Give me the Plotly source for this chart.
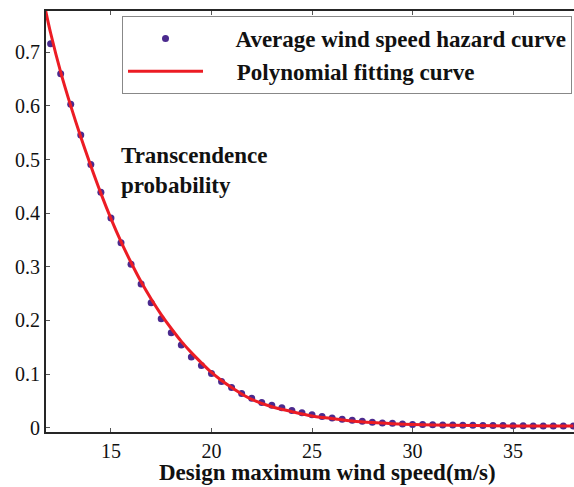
import plotly.graph_objects as go

# Average wind speed hazard curve (data points)
wind_speed = [12, 12.5, 13, 13.5, 14, 14.5, 15, 15.5, 16, 16.5, 17, 17.5, 18, 18.5,
              19, 19.5, 20, 20.5, 21, 21.5, 22, 22.5, 23, 23.5, 24, 24.5, 25, 25.5,
              26, 26.5, 27, 27.5, 28, 28.5, 29, 29.5, 30, 30.5, 31, 31.5, 32, 32.5,
              33, 33.5, 34, 34.5, 35, 35.5, 36, 36.5, 37, 37.5, 38]
hazard_prob = [0.716, 0.660, 0.603, 0.546, 0.491, 0.439, 0.391, 0.345, 0.305, 0.268,
               0.233, 0.203, 0.177, 0.154, 0.132, 0.116, 0.101, 0.086, 0.075, 0.064,
               0.055, 0.047, 0.042, 0.037, 0.032, 0.028, 0.024, 0.021, 0.018, 0.016,
               0.014, 0.012, 0.010, 0.009, 0.0085, 0.007, 0.006, 0.006, 0.0055, 0.005,
               0.005, 0.0045, 0.0045, 0.004, 0.004, 0.004, 0.0035, 0.0035, 0.003, 0.003,
               0.003, 0.003, 0.003]

# Polynomial fitting curve
fit_speed = [11.75, 12, 12.5, 13, 13.5, 14, 14.5, 15, 15.5, 16, 16.5, 17, 17.5, 18,
             18.5, 19, 19.5, 20, 20.5, 21, 21.5, 22, 23, 24, 25, 26, 27, 28, 29, 30,
             32, 34, 36, 38]
fit_prob = [0.778, 0.736, 0.663, 0.600, 0.542, 0.488, 0.437, 0.390, 0.347, 0.308,
            0.272, 0.240, 0.211, 0.185, 0.161, 0.140, 0.121, 0.103, 0.088, 0.075,
            0.063, 0.053, 0.039, 0.030, 0.022, 0.017, 0.0125, 0.0095, 0.0075, 0.006,
            0.0045, 0.0035, 0.003, 0.003]

x_ticks = [15, 20, 25, 30, 35]
y_ticks = [0, 0.1, 0.2, 0.3, 0.4, 0.5, 0.6, 0.7]

SERIF = "Liberation Serif"

fig = go.Figure()
fig.add_trace(go.Scatter(
    x=wind_speed, y=hazard_prob, mode="markers",
    name="<b>     Average wind speed hazard curve</b>",
    marker=dict(color="#4b2a8e", size=7),
    legendgroup="a",
))
fig.add_trace(go.Scatter(
    x=fit_speed, y=fit_prob, mode="lines",
    name="<b>     Polynomial fitting curve</b>",
    line=dict(color="#ec1c24", width=3, shape="spline", smoothing=0.8),
    legendgroup="b",
))

axis_common = dict(
    showgrid=False, zeroline=False, showline=True, linecolor="#262626",
    linewidth=2, ticks="inside", ticklen=4, tickwidth=1, tickcolor="#555555",
    tickfont=dict(family=SERIF, size=20, color="#111111"),
)

fig.update_xaxes(range=[11.77, 38.03], tickvals=x_ticks, mirror="ticks", **axis_common)
fig.update_yaxes(range=[-0.008, 0.777], tickvals=y_ticks, mirror=False, **axis_common)

fig.add_annotation(
    text="<b>Design maximum wind speed(m/s)</b>", xref="paper", yref="paper",
    x=0.534, y=-0.096, xanchor="center", yanchor="middle", showarrow=False,
    font=dict(family=SERIF, size=23, color="#111111"),
)
fig.add_annotation(
    text="<b>Transcendence<br>probability</b>", xref="paper", yref="paper",
    x=0.139, y=0.622, xanchor="left", yanchor="middle", showarrow=False,
    align="left", font=dict(family=SERIF, size=23, color="#111111"),
)

fig.update_layout(
    width=574, height=487,
    margin=dict(l=46, r=0, t=11, b=55),
    paper_bgcolor="white", plot_bgcolor="white",
    font=dict(family=SERIF),
    showlegend=True,
    legend=dict(
        x=(122 - 46) / 528, y=(432 - 16) / 421, xanchor="left", yanchor="top",
        bgcolor="white", bordercolor="#888888", borderwidth=1,
        font=dict(family=SERIF, size=23, color="#111111"),
        itemwidth=75, tracegroupgap=0,
    ),
)

fig.write_html("out.html")
